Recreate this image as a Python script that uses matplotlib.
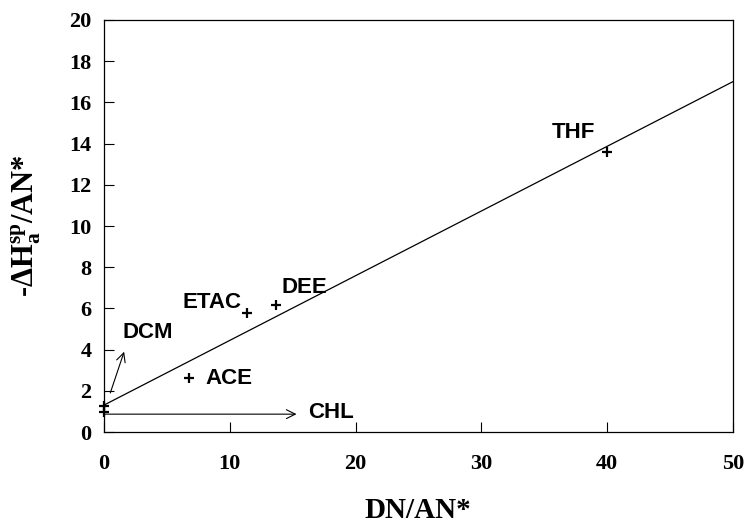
from matplotlib import pyplot as plt
import numpy as np

# solvent data
solvents = ["THF", "DEE", "ETAC", "ACE", "DCM", "CHL"]
dn_an = [40.0, 13.7, 11.4, 6.75, 0.0, 0.0]
dh_an = [13.6, 6.15, 5.8, 2.6, 1.26, 0.97]

# label anchor positions (left edge, centre) in data coords
label_x = [35.6, 14.1, 6.2, 8.1, 1.5, 16.2]
label_y = [14.55, 7.0, 6.3, 2.6, 4.85, 0.95]

# straight line through the points
intercept = 1.31
slope = 0.314
line_x = np.array([0.0, 50.0])

plt.rcParams['mathtext.default'] = 'regular'

fig = plt.figure(figsize=(7.45, 5.25), dpi=100)
ax = fig.add_axes([0.1396, 0.177, 0.8444, 0.785])

ax.plot(line_x, intercept + slope * line_x, color="black", lw=0.9)
ax.plot(dn_an, dh_an, "+", color="black", ms=7, mew=1.6, clip_on=False, zorder=5)

for name, lx, ly in zip(solvents, label_x, label_y):
    ax.text(lx, ly, name, family="Liberation Sans", weight="bold", fontsize=16,
            ha="left", va="center")

# arrows pointing DCM and CHL labels to their points
ax.annotate("", xy=(1.6, 3.9), xytext=(0.5, 1.9),
            arrowprops=dict(arrowstyle="->", lw=0.8, mutation_scale=16, shrinkA=0, shrinkB=0))
ax.annotate("", xy=(15.3, 0.87), xytext=(0.0, 0.87),
            arrowprops=dict(arrowstyle="->", lw=0.8, mutation_scale=16, shrinkA=0, shrinkB=0))

ax.set_xlim(0, 50)
ax.set_ylim(0, 20)
ax.set_xticks(np.arange(0, 51, 10))
ax.set_yticks(np.arange(0, 21, 2))
ax.tick_params(direction="in", length=7, width=0.8, top=False, right=False)
ax.tick_params(axis="x", pad=16)
ax.tick_params(axis="y", pad=9)
for lab in ax.get_xticklabels() + ax.get_yticklabels():
    lab.set_family("Liberation Serif")
    lab.set_weight("bold")
    lab.set_fontsize(16)
for sp in ax.spines.values():
    sp.set_linewidth(0.9)

fig.text(0.561, 0.028, "DN/AN*", family="Liberation Serif", weight="bold",
         fontsize=21, ha="center", va="center")
fig.text(0.035, 0.57, r"-$\Delta$H$_a^{sp}$/AN*", family="Liberation Serif",
         weight="bold", fontsize=22, ha="center", va="center", rotation=90)

plt.savefig("out.png", dpi=100)
